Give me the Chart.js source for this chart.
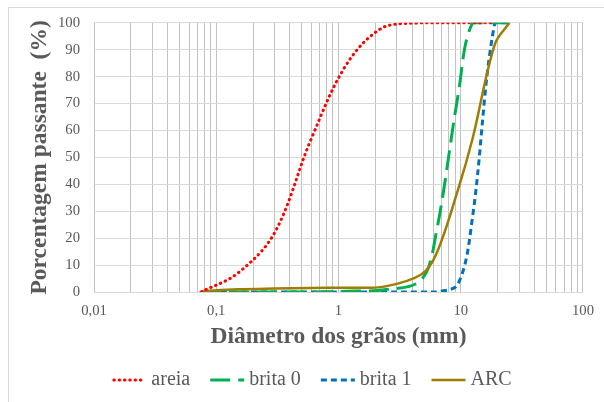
<!DOCTYPE html>
<html><head><meta charset="utf-8">
<script src="https://cdn.jsdelivr.net/npm/chart.js@4/dist/chart.umd.min.js"></script>
<style>html,body{margin:0;padding:0;background:#fff}canvas{display:block}</style>
</head><body>
<canvas id="c" width="604" height="402"></canvas>
<script>
// ---- data ----
const sieves = [0.075, 0.15, 0.3, 0.6, 1.18, 2.36, 4.75, 6.3, 9.5, 12.5, 19, 25];
const areia  = [0, 7, 22, 57, 85, 98.5, 100, 100, 100, 100, 100, null];
const brita0 = [0, 0, 0, 0, 0.3, 0.8, 4.5, 22, 73, 100, 100, 100];
const brita1 = [0, 0, 0, 0, 0, 0, 0, 0, 3, 28, 100, 100];
const arc    = [0.3, 1, 1.3, 1.5, 1.6, 2, 6.5, 14, 38, 57, 92, 100];
const seriesNames = ['areia', 'brita 0', 'brita 1', 'ARC'];
const xMajorTicks = [0.01, 0.1, 1, 10, 100];
const xTickLabels = ['0,01', '0,1', '1', '10', '100'];
const xMinorMultipliers = [1, 2, 3, 4, 5, 6, 7, 8, 9];
const yTickLabels = ['0','10','20','30','40','50','60','70','80','90','100'];
const xTitle = 'Diâmetro dos grãos (mm)';
const yTitle = 'Porcentagem passante  (%)';

const FONT = "'Liberation Serif', 'Times New Roman', serif";
const GREY = '#595959';

function pts(vals) {
  const out = [];
  sieves.forEach((x, i) => { if (vals[i] !== null) out.push({x: x, y: vals[i]}); });
  return out;
}
const xGridValues = [];
xMajorTicks.slice(0, -1).forEach(d => xMinorMultipliers.forEach(m => xGridValues.push(Number((d * m).toPrecision(6)))));
xGridValues.push(xMajorTicks[xMajorTicks.length - 1]);

const common = {pointRadius: 0, pointHoverRadius: 0, fill: false, tension: 0.35};
const datasets = [
  Object.assign({label: seriesNames[0], data: pts(areia), borderColor: '#FF0000', borderWidth: 3, borderDash: [0.5, 4.8], borderCapStyle: 'round', order: 0}, common),
  Object.assign({label: seriesNames[1], data: pts(brita0), borderColor: '#00B050', borderWidth: 3, borderDash: [20, 8], order: 2}, common),
  Object.assign({label: seriesNames[2], data: pts(brita1), borderColor: '#0070C0', borderWidth: 3, borderDash: [6, 4], order: 3}, common),
  Object.assign({label: seriesNames[3], data: pts(arc), borderColor: '#A07C00', borderWidth: 2.5, borderDash: [], order: 1}, common)
];

const framePlugin = {
  id: 'frame',
  beforeDraw(chart) {
    const ctx = chart.ctx;
    ctx.save();
    ctx.fillStyle = '#fff';
    ctx.fillRect(0, 0, chart.width, chart.height);
    ctx.strokeStyle = '#d9d9d9';
    ctx.lineWidth = 1;
    ctx.beginPath();
    ctx.moveTo(8.5, chart.height);
    ctx.lineTo(8.5, 7.5);
    ctx.lineTo(chart.width, 7.5);
    ctx.stroke();
    ctx.restore();
  }
};

const legendPlugin = {
  id: 'customLegend',
  afterDraw(chart) {
    const ctx = chart.ctx;
    const sample = 34, gap = 5, spacing = 20, cy = 380, cx = 312;
    ctx.save();
    ctx.font = '20px ' + FONT;
    const ds = chart.data.datasets;
    const widths = ds.map(d => sample + gap + ctx.measureText(d.label).width);
    const total = widths.reduce((a, b) => a + b, 0) + spacing * (ds.length - 1);
    let x = cx - total / 2;
    ds.forEach((d, i) => {
      const round = d.borderCapStyle === 'round';
      ctx.strokeStyle = d.borderColor;
      ctx.lineWidth = d.borderWidth;
      ctx.setLineDash(d.borderDash || []);
      ctx.lineCap = d.borderCapStyle || 'butt';
      ctx.beginPath();
      ctx.moveTo(x + (round ? 1.5 : 0), cy);
      ctx.lineTo(x + sample - (round ? 2 : 0), cy);
      ctx.stroke();
      ctx.setLineDash([]);
      ctx.fillStyle = GREY;
      ctx.textBaseline = 'middle';
      ctx.textAlign = 'left';
      ctx.fillText(d.label, x + sample + gap, cy);
      x += widths[i] + spacing;
    });
    ctx.restore();
  }
};

new Chart(document.getElementById('c'), {
  type: 'line',
  data: {datasets: datasets},
  plugins: [framePlugin, legendPlugin],
  options: {
    responsive: false,
    devicePixelRatio: 1,
    animation: false,
    layout: {padding: {top: 22, right: 18, bottom: 40, left: 0}},
    plugins: {legend: {display: false}, tooltip: {enabled: false}},
    scales: {
      x: {
        type: 'logarithmic',
        min: xMajorTicks[0],
        max: xMajorTicks[xMajorTicks.length - 1],
        afterBuildTicks: s => { s.ticks = xGridValues.map(v => ({value: v, major: xMajorTicks.includes(v)})); },
        afterFit: s => { s.height = 70; },
        grid: {color: '#c2c2c2', lineWidth: 1, drawTicks: false},
        border: {display: false},
        ticks: {
          autoSkip: false, maxRotation: 0, minRotation: 0, padding: 10,
          color: GREY, font: {family: FONT, size: 14.7},
          callback: (v) => {
            const i = xMajorTicks.findIndex(t => Math.abs(t - v) / t < 1e-6);
            return i >= 0 ? xTickLabels[i] : '';
          }
        },
        title: {display: true, text: xTitle, color: GREY, font: {family: FONT, size: 23.5, weight: 'bold', lineHeight: 1.2}, padding: {top: 0, bottom: 11}}
      },
      y: {
        type: 'linear',
        min: 0, max: 100,
        afterFit: s => { s.width = 94; },
        grid: {color: '#d9d9d9', lineWidth: 1, drawTicks: false},
        border: {display: false},
        ticks: {
          stepSize: 10, padding: 14, color: GREY, font: {family: FONT, size: 14.7},
          callback: (v, i) => yTickLabels[i]
        },
        title: {display: true, text: yTitle, color: GREY, font: {family: FONT, size: 23.5, weight: 'bold', lineHeight: 1.2}, padding: {top: 26, bottom: 0}}
      }
    }
  }
});
</script>
</body></html>
